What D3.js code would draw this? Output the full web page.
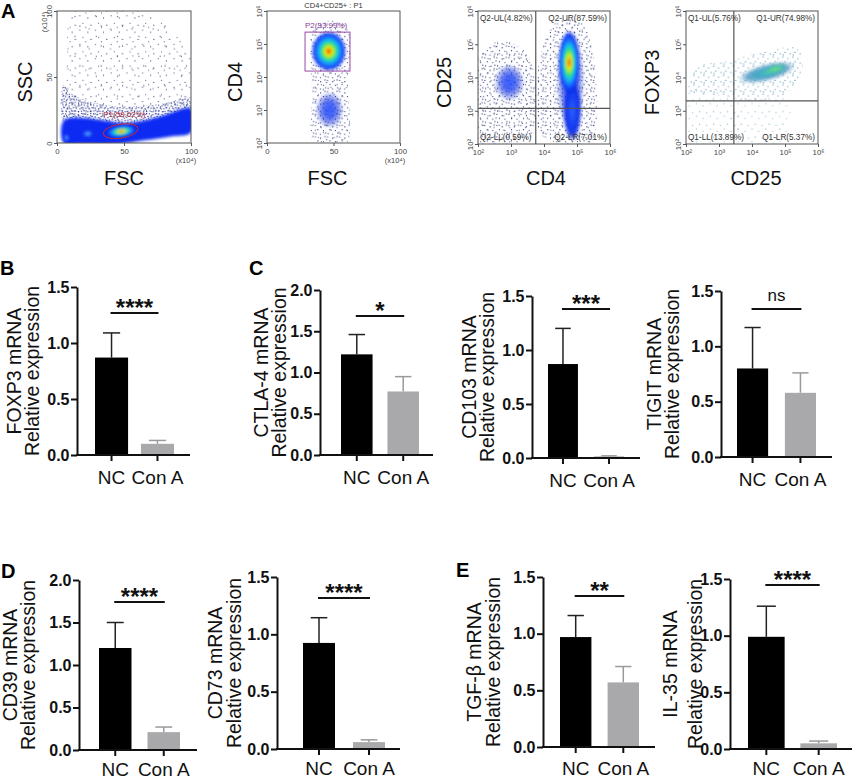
<!DOCTYPE html>
<html><head><meta charset="utf-8">
<script src="https://cdn.jsdelivr.net/npm/d3@7"></script>
<style>
body{margin:0;background:#fff}
svg{display:block}
text{font-family:"Liberation Sans",Arial,Helvetica,sans-serif}
</style>
</head><body>
<svg id="fig" width="858" height="780"></svg>
<script>
// ---------------- DATA ----------------
// Bar charts (B–E)
const groups = ["NC", "Con A"];
const genes = ["FOXP3", "CTLA-4", "CD103", "TIGIT", "CD39", "CD73", "TGF-β", "IL-35"];
const ncMeans   = [0.87, 1.22, 0.87, 0.80, 1.20, 0.925, 0.97, 0.99];
const ncSD      = [0.22, 0.24, 0.33, 0.37, 0.30, 0.22, 0.19, 0.27];
const conAMeans = [0.10, 0.77, 0.015, 0.58, 0.21, 0.06, 0.57, 0.05];
const conASD    = [0.03, 0.18, 0.005, 0.18, 0.06, 0.02, 0.14, 0.02];
const yMaxes    = [1.5, 2.0, 1.5, 1.5, 2.0, 1.5, 1.5, 1.5];
const sigLabels = ["****", "*", "***", "ns", "****", "****", "**", "****"];
const yLabelLine2 = "Relative expression";

// Flow cytometry (A): density clusters [x, y, rx, ry, angle, level]
const fscSscClusters = [[48, 8.8, 11.5, 4.6, -8, "hot"], [23, 7, 4.5, 2.8, 0, "light"], [7, 4, 2.2, 3, 0, "light"]];
const fscSscBand = [[5, 0], [5, 17], [20, 19], [35, 17], [50, 15], [65, 17], [80, 21], [100, 26], [100, 8], [85, 5], [65, 2], [45, -1], [20, -1]];
const fscSscMid = [[5, 16], [5, 44], [10, 38], [22, 32], [42, 28], [62, 28], [80, 30], [101, 34], [101, 22], [80, 19], [65, 16], [50, 14], [35, 16], [20, 18]];
const fscSscSparse = [[5, 20], [7, 60], [13, 101], [60, 101], [85, 86], [101, 62], [101, 26], [70, 24], [40, 26]];
const p1Gate = [47.5, 9, 13, 5.3, -9];
const p1Label = "P1(58.62%)";

const fscCd4Clusters = [[46.5, 4.78, 13, 0.6, 0, "hot"], [47, 3.0, 10.5, 0.55, 0, "halo"]];
const fscCd4Sparse = [[35, 2.0], [34, 3.5], [34, 5.4], [40, 5.65], [56, 5.65], [62, 5.3], [61, 3.8], [60, 2.0], [47, 1.95]];
const p2Gate = [28.6, 62.4, 4.18, 5.36];
const p2Label = "P2(93.99%)";
const fscCd4Title = "CD4+CD25+ : P1";

const cd4Cd25Clusters = [[4.8, 3.9, 0.42, 1.55, 0, "halo"], [4.86, 3.0, 0.27, 0.9, 0, "blue"], [4.76, 4.45, 0.32, 0.95, 0, "hot"], [2.95, 3.85, 0.45, 0.55, 0, "halo"]];
const cd4Cd25SparseLeft = [[2.0, 2.1], [2.0, 4.6], [2.7, 5.1], [3.5, 4.7], [3.75, 3.6], [3.6, 2.2], [2.8, 2.0]];
const cd4Cd25SparseRight = [[3.8, 2.4], [3.8, 4.1], [4.3, 5.6], [5.1, 5.7], [5.5, 4.6], [5.4, 2.0], [4.5, 2.0]];
const q2Cut = [3.75, 3.07];
const q2Labels = ["Q2-UL(4.82%)", "Q2-UR(87.59%)", "Q2-LL(0.59%)", "Q2-LR(7.01%)"];

const cd25FoxClusters = [[4.45, 4.15, 0.9, 0.26, -14, "teal"], [4.7, 4.25, 0.4, 0.15, -14, "tealcore"]];
const cd25FoxSparseLow = [[2.0, 2.0], [2.0, 3.5], [3.0, 3.6], [3.5, 3.3], [3.5, 2.0]];
const cd25FoxSparseUp = [[2.1, 3.6], [2.3, 4.3], [3.3, 4.5], [4.4, 4.8], [5.4, 4.85], [5.5, 4.1], [5.0, 3.5], [4.0, 3.3], [3.0, 3.45]];
const cd25FoxSparseLR = [[3.5, 2.1], [3.5, 3.3], [5.1, 3.3], [4.9, 2.1]];
const q1Cut = [3.45, 3.3];
const q1Labels = ["Q1-UL(5.76%)", "Q1-UR(74.98%)", "Q1-LL(13.89%)", "Q1-LR(5.37%)"];

// ---------------- SETUP ----------------
const svg = d3.select("#fig");
const defs = svg.append("defs");
const fBlur = defs.append("filter").attr("id", "blur").attr("x", "-50%").attr("y", "-50%").attr("width", "200%").attr("height", "200%");
fBlur.append("feGaussianBlur").attr("stdDeviation", 1.4);

const gradStops = {
  hot: [[0, "#a00000"], [0.07, "#ff2a00"], [0.16, "#ffd500"], [0.28, "#b0f020"], [0.40, "#30e070"], [0.55, "#10c0f0"], [0.72, "#1a6aff"], [0.88, "#0a2ff0", 0.95], [1, "#0a2ff0", 0]],
  blue: [[0, "#2f63ff"], [0.6, "#1238f0"], [0.85, "#0a26e0", 0.85], [1, "#0a26e0", 0]],
  halo: [[0, "#2a55ff", 0.95], [0.45, "#1a3cf0", 0.75], [0.8, "#1530d0", 0.35], [1, "#1530d0", 0]],
  light: [[0, "#6cc0ff"], [0.35, "#3a88ff"], [0.75, "#1238f0"], [0.9, "#0a26e0", 0.8], [1, "#0a26e0", 0]],
  teal: [[0, "#55c8b0"], [0.35, "#40a8c8"], [0.7, "#4a95c0", 0.8], [1, "#6aa0c0", 0]],
  tealcore: [[0, "#7ee070"], [0.5, "#50d0a0", 0.8], [1, "#40b0c0", 0]]
};
Object.entries(gradStops).forEach(([k, stops]) => {
  const g = defs.append("radialGradient").attr("id", "g-" + k);
  stops.forEach(s => g.append("stop").attr("offset", s[0]).attr("stop-color", s[1]).attr("stop-opacity", s.length > 2 ? s[2] : 1));
});

function dotPattern(id, w, h, dots, color, r) {
  const p = defs.append("pattern").attr("id", id).attr("width", w).attr("height", h).attr("patternUnits", "userSpaceOnUse");
  dots.forEach(d => p.append("circle").attr("cx", d[0]).attr("cy", d[1]).attr("r", r).attr("fill", color));
}
// hand-placed texture tiles (styling only)
dotPattern("dNavyDense", 9.3, 8.7, [[0.6, 0.8], [3.9, 1.6], [7.2, 0.4], [2.1, 3.9], [5.6, 4.4], [8.4, 3.3], [0.9, 6.6], [4.2, 7.4], [7.0, 6.9]], "#12208a", 0.65);
dotPattern("dNavyMid", 12.1, 11.3, [[0.8, 1.2], [6.1, 2.6], [10.3, 0.9], [3.3, 5.4], [8.8, 6.2], [1.5, 9.4], [5.9, 9.9], [11.0, 8.6]], "#1a2478", 0.6);
dotPattern("dNavySparse", 15.7, 14.3, [[1.2, 1.5], [9.4, 3.7], [4.5, 8.8], [12.6, 10.9], [7.3, 13.1]], "#202a66", 0.55);
dotPattern("dNavySparse2", 21.3, 19.9, [[4.0, 9.0], [16.1, 6.1], [11.0, 16.5]], "#202a66", 0.55);
dotPattern("dTeal", 9.9, 9.3, [[0.9, 1.1], [5.8, 2.9], [3.0, 6.0], [8.1, 7.4], [1.2, 8.3]], "#4a8eae", 0.6);
dotPattern("dTealSparse", 13.9, 12.7, [[1.3, 2.0], [8.1, 4.1], [4.7, 9.9], [11.6, 11.0]], "#6aa4bc", 0.55);

const sup = {2: "²", 3: "³", 4: "⁴", 5: "⁵", 6: "⁶"};
const blob = d3.line().curve(d3.curveCatmullRomClosed.alpha(0.5));

// ---------------- FLOW PLOTS ----------------
function drawFlow(cfg) {
  const g = svg.append("g");
  const x = d3.scaleLinear().domain(cfg.xLog ? [2, 6] : [0, 100]).range([cfg.l, cfg.r]);
  const y = d3.scaleLinear().domain(cfg.yLog ? [2, 6] : [0, 100]).range([cfg.b, cfg.t]);
  const clipId = "clip" + cfg.id;
  defs.append("clipPath").attr("id", clipId).append("rect")
    .attr("x", cfg.l).attr("y", cfg.t).attr("width", cfg.r - cfg.l).attr("height", cfg.b - cfg.t);
  const plot = g.append("g").attr("clip-path", `url(#${clipId})`);
  const toPx = poly => poly.map(p => [x(p[0]), y(p[1])]);
  (cfg.sparse || []).forEach(([poly, pat]) => plot.append("path").attr("d", blob(toPx(poly))).attr("fill", `url(#${pat})`));
  (cfg.bands || []).forEach(([poly, color]) => plot.append("path").attr("d", blob(toPx(poly))).attr("fill", color).attr("filter", "url(#blur)"));
  cfg.clusters.forEach(c => {
    const [cx, cy, rx, ry, ang, lvl] = c;
    const px = x(cx), py = y(cy);
    plot.append("ellipse").attr("cx", 0).attr("cy", 0)
      .attr("rx", Math.abs(x(cx + rx) - px)).attr("ry", Math.abs(y(cy + ry) - py))
      .attr("transform", `translate(${px},${py}) rotate(${ang})`)
      .attr("fill", `url(#g-${lvl})`).attr("filter", "url(#blur)");
  });
  if (cfg.quad) {
    const [qx, qy] = cfg.quad;
    plot.append("line").attr("x1", x(qx)).attr("x2", x(qx)).attr("y1", cfg.t).attr("y2", cfg.b).attr("stroke", "#555").attr("stroke-width", 1.2);
    plot.append("line").attr("x1", cfg.l).attr("x2", cfg.r).attr("y1", y(qy)).attr("y2", y(qy)).attr("stroke", "#555").attr("stroke-width", 1.2);
    const fs = 8.2;
    const ql = cfg.quadLabels;
    g.append("text").attr("x", cfg.l + 2).attr("y", cfg.t + 10).text(ql[0]).attr("font-size", fs).attr("fill", "#333");
    g.append("text").attr("x", cfg.r - 3).attr("y", cfg.t + 10).text(ql[1]).attr("font-size", fs).attr("fill", "#333").attr("text-anchor", "end");
    g.append("text").attr("x", cfg.l + 2).attr("y", cfg.b - 4).text(ql[2]).attr("font-size", fs).attr("fill", "#333");
    g.append("text").attr("x", cfg.r - 3).attr("y", cfg.b - 4).text(ql[3]).attr("font-size", fs).attr("fill", "#333").attr("text-anchor", "end");
  }
  if (cfg.after) cfg.after(g, x, y);
  g.append("rect").attr("x", cfg.l).attr("y", cfg.t).attr("width", cfg.r - cfg.l).attr("height", cfg.b - cfg.t)
    .attr("fill", "none").attr("stroke", "#555").attr("stroke-width", 1);

  const fmtLin = d => String(d), fmtLog = d => "10" + sup[d];
  const xa = g.append("g").attr("transform", `translate(0,${cfg.b})`)
    .call(d3.axisBottom(x).tickValues(cfg.xLog ? [2, 3, 4, 5, 6] : [0, 50, 100]).tickSize(3).tickSizeOuter(0).tickPadding(2)
      .tickFormat(cfg.xLog ? fmtLog : fmtLin));
  xa.select(".domain").remove();
  xa.selectAll("line").attr("stroke", "#555");
  xa.selectAll("text").attr("font-size", 7.8).attr("fill", "#444").attr("font-family", null);
  const ya = g.append("g").attr("transform", `translate(${cfg.l},0)`)
    .call(d3.axisLeft(y).tickValues(cfg.yLog ? [2, 3, 4, 5, 6] : [0, 50, 100]).tickSize(3).tickSizeOuter(0)
      .tickFormat(cfg.yLog ? fmtLog : fmtLin));
  ya.select(".domain").remove();
  ya.selectAll("line").attr("stroke", "#555");
  ya.selectAll("text").attr("x", null).attr("dy", null).attr("text-anchor", "middle")
    .attr("transform", "translate(-5,0) rotate(-90)").attr("font-size", 7.8).attr("fill", "#444").attr("font-family", null);

  // axis titles
  g.append("text").attr("x", (cfg.l + cfg.r) / 2 + (cfg.xTitleDx || 0)).attr("y", 185).attr("text-anchor", "middle")
    .attr("font-size", 20).attr("fill", "#111").text(cfg.xTitle);
  g.append("text").attr("transform", `translate(${cfg.yTitleX},${(cfg.t + cfg.b) / 2 + 5}) rotate(-90)`).attr("text-anchor", "middle")
    .attr("font-size", 20).attr("fill", "#111").text(cfg.yTitle);
  if (cfg.unitX) {
    g.append("text").attr("x", cfg.r - 5).attr("y", cfg.b + 20).attr("text-anchor", "middle").attr("font-size", 7.5).attr("fill", "#444").text("(x10⁴)");
  }
  if (cfg.unitY) {
    g.append("text").attr("transform", `translate(${cfg.l - 10},${cfg.t + 11}) rotate(-90)`).attr("text-anchor", "middle").attr("font-size", 7.5).attr("fill", "#444").text("(x10⁴)");
  }
}

drawFlow({
  id: 1, l: 57, r: 191, t: 11, b: 143, xLog: false, yLog: false, xTitle: "FSC", yTitle: "SSC", yTitleX: 32, unitX: true, unitY: true,
  sparse: [[fscSscSparse, "dNavySparse"], [fscSscSparse, "dNavySparse2"], [fscSscMid, "dNavyMid"], [fscSscMid, "dNavyDense"]],
  bands: [[fscSscBand, "#0c2cf2"]],
  clusters: fscSscClusters,
  after: (g, x, y) => {
    const [cx, cy, rx, ry, ang] = p1Gate;
    g.append("ellipse").attr("cx", 0).attr("cy", 0).attr("rx", x(cx + rx) - x(cx)).attr("ry", y(cy) - y(cy + ry))
      .attr("transform", `translate(${x(cx)},${y(cy)}) rotate(${ang})`).attr("fill", "none").attr("stroke", "#c0283c").attr("stroke-width", 1);
    g.append("text").attr("x", x(cx - 13)).attr("y", y(cy + 11)).attr("font-size", 8).attr("fill", "#b03040").text(p1Label);
  }
});

drawFlow({
  id: 2, l: 267, r: 400, t: 11, b: 143, xLog: false, yLog: true, xTitle: "FSC", xTitleDx: -6, yTitle: "CD4", yTitleX: 242, unitX: true,
  sparse: [[fscCd4Sparse, "dNavyMid"], [fscCd4Sparse, "dNavySparse"]],
  clusters: fscCd4Clusters,
  after: (g, x, y) => {
    const [x0, x1, y0, y1] = p2Gate;
    g.append("rect").attr("x", x(x0)).attr("y", y(y1)).attr("width", x(x1) - x(x0)).attr("height", y(y0) - y(y1))
      .attr("fill", "none").attr("stroke", "#9a4aa6").attr("stroke-width", 1);
    g.append("text").attr("x", x(x0)).attr("y", y(y1) - 4).attr("font-size", 8).attr("fill", "#8a3a9a").text(p2Label);
    g.append("text").attr("x", (x.range()[0] + x.range()[1]) / 2).attr("y", 8).attr("text-anchor", "middle").attr("font-size", 7.5).attr("fill", "#333").text(fscCd4Title);
  }
});

drawFlow({
  id: 3, l: 478, r: 610, t: 11, b: 144, xLog: true, yLog: true, xTitle: "CD4", xTitleDx: 2, yTitle: "CD25", yTitleX: 451,
  sparse: [[cd4Cd25SparseLeft, "dNavyMid"], [cd4Cd25SparseLeft, "dNavySparse"], [cd4Cd25SparseRight, "dNavyMid"], [cd4Cd25SparseRight, "dNavySparse"]],
  clusters: cd4Cd25Clusters,
  quad: q2Cut, quadLabels: q2Labels
});

drawFlow({
  id: 4, l: 686, r: 818, t: 11, b: 144, xLog: true, yLog: true, xTitle: "CD25", xTitleDx: 4, yTitle: "FOXP3", yTitleX: 659,
  sparse: [[cd25FoxSparseLow, "dTealSparse"], [cd25FoxSparseUp, "dTeal"], [cd25FoxSparseLR, "dTealSparse"]],
  clusters: cd25FoxClusters,
  quad: q1Cut, quadLabels: q1Labels
});

// ---------------- BAR CHARTS ----------------
const barLayout = [
  {x0: 77,  x1: 190, b0: 95,  b1: 174, pi: 0.28, yTop: 287, yBot: 455, lab: [21, 39], pad: 9.5},
  {x0: 320, x1: 433, b0: 341, b1: 419, pi: 0.32, yTop: 290, yBot: 455, lab: [268, 286], pad: 9.5},
  {x0: 532, x1: 640, b0: 548, b1: 624, pi: 0.35, yTop: 296, yBot: 458, lab: [476, 494], pad: 9.5},
  {x0: 721, x1: 832, b0: 737, b1: 816, pi: 0.35, yTop: 291, yBot: 457, lab: [661, 679], pad: 9.5},
  {x0: 79,  x1: 197, b0: 99,  b1: 180, pi: 0.33, yTop: 580, yBot: 750, lab: [17, 35], pad: 6.5},
  {x0: 277, x1: 400, b0: 303, b1: 385, pi: 0.36, yTop: 577, yBot: 749, lab: [222, 241], pad: 7},
  {x0: 543, x1: 655, b0: 560, b1: 639, pi: 0.34, yTop: 577, yBot: 747, lab: [481, 500], pad: 8.5},
  {x0: 730, x1: 852, b0: 748, b1: 837, pi: 0.30, yTop: 579, yBot: 749, lab: [677, 702], pad: 7}
];
const sigY = [313, 316, 309, 309, 602, 598, 596, 585];
const barColors = ["#000000", "#a9a9ab"];
const errColors = ["#222222", "#9a9a9c"];

genes.forEach((gene, i) => {
  const L = barLayout[i];
  const g = svg.append("g");
  const y = d3.scaleLinear().domain([0, yMaxes[i]]).range([L.yBot, L.yTop]);
  const x = d3.scaleBand().domain(groups).range([L.b0, L.b1]).paddingInner(L.pi);
  const bw = x.bandwidth();
  const vals = [ncMeans[i], conAMeans[i]];
  const sds = [ncSD[i], conASD[i]];
  const rows = groups.map((grp, j) => ({grp, v: vals[j], sd: sds[j], j}));

  // error bars (upper only)
  rows.forEach(r => {
    const cx = x(r.grp) + bw / 2;
    g.append("line").attr("x1", cx).attr("x2", cx).attr("y1", y(r.v)).attr("y2", y(r.v + r.sd))
      .attr("stroke", errColors[r.j]).attr("stroke-width", 1.5);
    g.append("line").attr("x1", cx - bw * 0.26).attr("x2", cx + bw * 0.26).attr("y1", y(r.v + r.sd)).attr("y2", y(r.v + r.sd))
      .attr("stroke", errColors[r.j]).attr("stroke-width", 1.5);
  });
  // bars
  g.selectAll("rect.bar").data(rows).join("rect").attr("class", "bar")
    .attr("x", d => x(d.grp)).attr("width", bw)
    .attr("y", d => y(d.v)).attr("height", d => y(0) - y(d.v))
    .attr("fill", d => barColors[d.j]);

  // y axis
  const ticks = d3.range(0, yMaxes[i] + 0.001, 0.5);
  const ya = g.append("g").attr("transform", `translate(${L.x0},0)`)
    .call(d3.axisLeft(y).tickValues(ticks).tickSize(6).tickSizeOuter(0).tickPadding(1.5).tickFormat(d3.format(".1f")));
  ya.select(".domain").attr("stroke", "#111").attr("stroke-width", 2);
  ya.selectAll(".tick line").attr("stroke", "#111").attr("stroke-width", 2);
  ya.selectAll("text").attr("font-size", 16).attr("font-weight", "bold").attr("fill", "#111").attr("font-family", null);

  // x axis
  g.append("line").attr("x1", L.x0 - 1).attr("x2", L.x1).attr("y1", L.yBot).attr("y2", L.yBot).attr("stroke", "#111").attr("stroke-width", 2);
  const xa = g.append("g").attr("transform", `translate(0,${L.yBot})`)
    .call(d3.axisBottom(x).tickSize(6).tickSizeOuter(0).tickPadding(L.pad));
  xa.select(".domain").remove();
  xa.selectAll(".tick line").attr("stroke", "#111").attr("stroke-width", 2);
  xa.selectAll("text").attr("font-size", 19).attr("fill", "#111").attr("font-family", null);

  // y label
  const midY = (L.yTop + L.yBot) / 2;
  g.append("text").attr("transform", `translate(${L.lab[0]},${midY}) rotate(-90)`).attr("text-anchor", "middle")
    .attr("font-size", 19.5).attr("fill", "#111").text(gene + " mRNA");
  g.append("text").attr("transform", `translate(${L.lab[1]},${midY}) rotate(-90)`).attr("text-anchor", "middle")
    .attr("font-size", 19.5).attr("fill", "#111").text(yLabelLine2);

  // significance
  const c0 = x(groups[0]) + bw / 2, c1 = x(groups[1]) + bw / 2;
  g.append("line").attr("x1", c0 - 1).attr("x2", c1 + 1).attr("y1", sigY[i]).attr("y2", sigY[i]).attr("stroke", "#111").attr("stroke-width", 2);
  const isNs = sigLabels[i] === "ns";
  g.append("text").attr("x", (c0 + c1) / 2).attr("y", isNs ? sigY[i] - 8 : sigY[i] + 3).attr("text-anchor", "middle")
    .attr("font-size", isNs ? 17 : 24).attr("font-weight", isNs ? "normal" : "bold").attr("fill", "#111")
    .text(sigLabels[i]);
});

// panel letters
const panelLetters = ["A", "B", "C", "D", "E"];
const letterPos = [[1, 18], [0, 275], [249, 275], [1, 578], [456, 577]];
panelLetters.forEach((t, k) => svg.append("text").attr("x", letterPos[k][0]).attr("y", letterPos[k][1])
  .attr("font-size", 20).attr("font-weight", "bold").attr("fill", "#000").text(t));
</script>
</body></html>
